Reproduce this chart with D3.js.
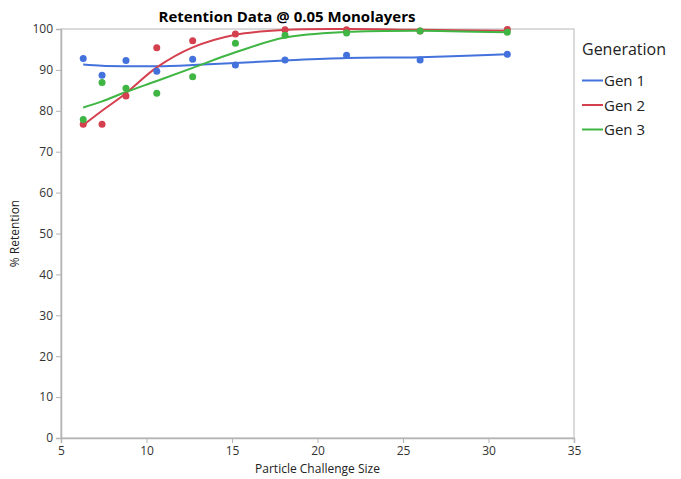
<!DOCTYPE html>
<html>
<head>
<meta charset="utf-8">
<script src="https://cdn.jsdelivr.net/npm/d3@7"></script>
<style>
  body { margin: 0; background: #fff; }
  svg { font-family: "Open Sans", "Noto Sans", sans-serif; }
</style>
</head>
<body>
<div id="chart"></div>
<script>
// particle sizes (x) shared by all generations
var sizes = [6.3, 7.4, 8.8, 10.6, 12.7, 15.2, 18.1, 21.7, 26.0, 31.1];
var seriesNames = ['Gen 1', 'Gen 2', 'Gen 3'];
// measured % retention
var gen1 = [92.8, 88.7, 92.3, 89.7, 92.6, 91.2, 92.4, 93.6, 92.4, 93.8];
var gen2 = [76.7, 76.7, 83.6, 95.4, 97.1, 98.8, 99.8, 99.8, 99.5, 99.9];
var gen3 = [77.9, 86.9, 85.5, 84.3, 88.3, 96.5, 98.5, 99.0, 99.5, 99.2];
// smoothing fit, at the same sizes
var fit1 = [91.3, 91.0, 90.9, 90.9, 91.2, 91.7, 92.3, 92.9, 93.1, 93.8];
var fit2 = [76.5, 80.0, 84.3, 90.6, 95.5, 98.6, 99.8, 100.0, 99.8, 99.6];
var fit3 = [80.8, 82.3, 84.6, 87.3, 90.5, 94.3, 97.9, 99.3, 99.6, 99.2];
var xTicks = [5, 10, 15, 20, 25, 30, 35];
var yTicks = [0, 10, 20, 30, 40, 50, 60, 70, 80, 90, 100];

var colors = ['#4472dc', '#d5404f', '#3fb543'];
var points = [gen1, gen2, gen3];
var fits = [fit1, fit2, fit3];

var W = 681, H = 479;
var plot = {left: 61, right: 574, top: 29, bottom: 438};

var svg = d3.select('#chart').append('svg')
  .attr('width', W).attr('height', H);

var x = d3.scaleLinear().domain([5, 35]).range([plot.left, plot.right]);
var y = d3.scaleLinear().domain([0, 100]).range([plot.bottom, plot.top]);

// frame
svg.append('rect')
  .attr('x', plot.left).attr('y', plot.top)
  .attr('width', plot.right - plot.left).attr('height', plot.bottom - plot.top)
  .attr('fill', 'none').attr('stroke', '#c4c4c4').attr('stroke-width', 1.2);

// axes
var xAxis = svg.append('g')
  .attr('transform', 'translate(0,' + plot.bottom + ')')
  .call(d3.axisBottom(x).tickValues(xTicks).tickSize(5).tickPadding(3));
var yAxis = svg.append('g')
  .attr('transform', 'translate(' + plot.left + ',0)')
  .call(d3.axisLeft(y).tickValues(yTicks).tickSize(5).tickPadding(3));

[xAxis, yAxis].forEach(function(a) {
  a.select('.domain').attr('stroke', '#b4b4b4').attr('stroke-width', 1.5);
  a.selectAll('.tick line').attr('stroke', '#b4b4b4');
  a.selectAll('.tick text').attr('fill', '#333').style('font-size', '12px')
    .style('font-family', '"Open Sans", sans-serif');
});

// fits
var line = d3.line()
  .x(function(d) { return x(d[0]); })
  .y(function(d) { return y(d[1]); })
  .curve(d3.curveCatmullRom.alpha(0.5));

fits.forEach(function(f, i) {
  svg.append('path')
    .datum(sizes.map(function(s, j) { return [s, f[j]]; }))
    .attr('d', line)
    .attr('fill', 'none')
    .attr('stroke', colors[i])
    .attr('stroke-width', 2);
});

// points
points.forEach(function(p, i) {
  svg.append('g').selectAll('circle')
    .data(p).enter()
    .append('circle')
    .attr('cx', function(d, j) { return x(sizes[j]); })
    .attr('cy', function(d) { return y(d); })
    .attr('r', 3.5)
    .attr('fill', colors[i]);
});

// title
svg.append('text')
  .attr('x', 287).attr('y', 22)
  .attr('text-anchor', 'middle')
  .style('font-size', '15px').style('font-weight', 'bold')
  .attr('fill', '#000')
  .text('Retention Data @ 0.05 Monolayers');

// axis titles
svg.append('text')
  .attr('x', (plot.left + plot.right) / 2).attr('y', 473)
  .attr('text-anchor', 'middle')
  .style('font-size', '12px').attr('fill', '#222')
  .text('Particle Challenge Size');

svg.append('text')
  .attr('transform', 'translate(19,' + ((plot.top + plot.bottom) / 2) + ') rotate(-90)')
  .attr('text-anchor', 'middle')
  .style('font-size', '12px').attr('fill', '#222')
  .text('% Retention');

// legend
var legend = svg.append('g').attr('transform', 'translate(582,0)');
legend.append('text')
  .attr('x', 0).attr('y', 55)
  .style('font-size', '16px').attr('fill', '#222')
  .text('Generation');

var items = legend.selectAll('.item')
  .data(seriesNames).enter()
  .append('g')
  .attr('transform', function(d, i) { return 'translate(0,' + (80.5 + i * 24.5) + ')'; });
items.append('line')
  .attr('x1', 0).attr('x2', 21)
  .attr('stroke', function(d, i) { return colors[i]; })
  .attr('stroke-width', 2);
items.append('text')
  .attr('x', 22).attr('y', 5.5)
  .style('font-size', '15px').attr('fill', '#222')
  .text(function(d) { return d; });
</script>
</body>
</html>
